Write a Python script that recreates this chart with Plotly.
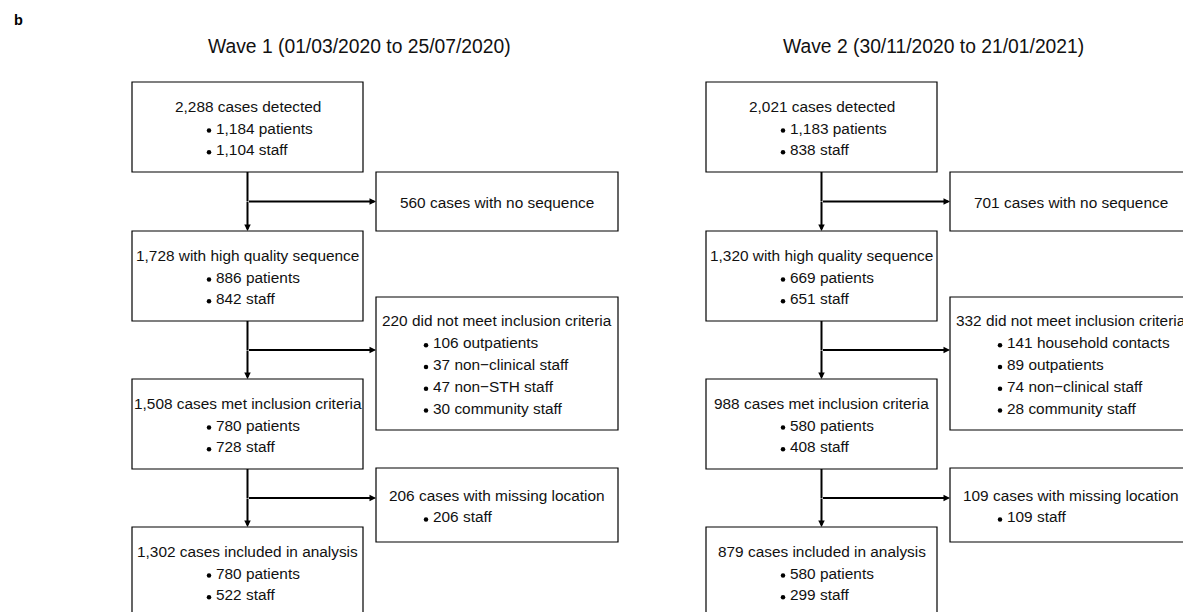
import plotly.graph_objects as go

# ---------------- data ----------------
panel_label = "b"
wave_titles = ["Wave 1 (01/03/2020 to 25/07/2020)", "Wave 2 (30/11/2020 to 21/01/2021)"]

main_labels = ["cases detected", "with high quality sequence",
               "cases met inclusion criteria", "cases included in analysis"]
excl_labels = ["cases with no sequence", "did not meet inclusion criteria",
               "cases with missing location"]

w1_main_counts = [2288, 1728, 1508, 1302]
w1_main_patients = [1184, 886, 780, 780]
w1_main_staff = [1104, 842, 728, 522]
w1_excl_counts = [560, 220, 206]
w1_excl2_counts = [106, 37, 47, 30]
w1_excl2_labels = ["outpatients", "non\u2212clinical staff", "non\u2212STH staff", "community staff"]
w1_excl3_staff = [206]

w2_main_counts = [2021, 1320, 988, 879]
w2_main_patients = [1183, 669, 580, 580]
w2_main_staff = [838, 651, 408, 299]
w2_excl_counts = [701, 332, 109]
w2_excl2_counts = [141, 89, 74, 28]
w2_excl2_labels = ["household contacts", "outpatients", "non\u2212clinical staff", "community staff"]
w2_excl3_staff = [109]

waves = [
    dict(main_counts=w1_main_counts, patients=w1_main_patients, staff=w1_main_staff,
         excl_counts=w1_excl_counts, excl2_counts=w1_excl2_counts,
         excl2_labels=w1_excl2_labels, excl3_staff=w1_excl3_staff),
    dict(main_counts=w2_main_counts, patients=w2_main_patients, staff=w2_main_staff,
         excl_counts=w2_excl_counts, excl2_counts=w2_excl2_counts,
         excl2_labels=w2_excl2_labels, excl3_staff=w2_excl3_staff),
]

# ---------------- layout geometry (pixels of the page) ----------------
W, H = 1183, 612
panel_x0 = [132, 706]
main_w = 231
main_h = 90
main_tops = [82, 231, 379, 527]
side_dx = 244
side_w = 242
side_tops = [172, 297, 468]
side_bots = [231, 430, 542]
title_dx = 227
title_y = 46
line_h = 21.8
FS = 15.4
FONT = "Liberation Sans, Arial, Helvetica, sans-serif"
TXT = "#111111"
main_bullet_dx = 77
side_bullet_dx = 50
bullet_gap = 4.5
bullet_dy = 2.5

fig = go.Figure()
shapes, annots = [], []
bx, by = [], []


def text(x, y, s, anchor="center", size=FS, color=TXT):
    annots.append(dict(x=x, y=y, xref="x", yref="y", text=s, showarrow=False,
                       xanchor=anchor, yanchor="middle",
                       font=dict(family=FONT, size=size, color=color)))


def box(x0, y0, x1, y1):
    shapes.append(dict(type="rect", xref="x", yref="y", x0=x0, y0=y0, x1=x1, y1=y1,
                       line=dict(color="black", width=1.2), fillcolor="rgba(0,0,0,0)"))


def arrow(xs, ys, xe, ye):
    annots.append(dict(x=xe, y=ye, ax=xs, ay=ys, xref="x", yref="y", axref="x", ayref="y",
                       text="", showarrow=True, arrowhead=2, arrowsize=0.65, arrowwidth=2,
                       arrowcolor="black", standoff=0, startstandoff=0))


def block(left, top, bottom, header, items, bullet_dx, width):
    """header centred in box, bullet items left aligned."""
    n = 1 + len(items)
    cy = (top + bottom) / 2 + 1
    cx = left + width / 2
    for k in range(n):
        y = cy + (k - (n - 1) / 2) * line_h
        if k == 0:
            text(cx, y, header)
        else:
            bx.append(left + bullet_dx)
            by.append(y + bullet_dy)
            text(left + bullet_dx + bullet_gap, y, items[k - 1], anchor="left")


text(12, 20, "<b>%s</b>" % panel_label, anchor="left", size=14.5, color="black")

for p, wv in enumerate(waves):
    x0 = panel_x0[p]
    cx = x0 + main_w / 2
    sx = x0 + side_dx
    text(x0 + title_dx, title_y, wave_titles[p], size=19.3)
    for i in range(4):
        top = main_tops[i]
        bot = top + main_h
        box(x0, top, x0 + main_w, bot)
        block(x0, top, bot, f"{wv['main_counts'][i]:,} {main_labels[i]}",
              [f"{wv['patients'][i]:,} patients", f"{wv['staff'][i]:,} staff"],
              main_bullet_dx, main_w)
    for i in range(3):
        bot = main_tops[i] + main_h
        nxt = main_tops[i + 1]
        ay = (bot + nxt) / 2
        shapes.append(dict(type="line", xref="x", yref="y", x0=cx, x1=cx, y0=bot, y1=ay,
                           line=dict(color="black", width=2)))
        arrow(cx, ay - 1, cx, nxt)
        arrow(cx, ay, sx, ay)
        box(sx, side_tops[i], sx + side_w, side_bots[i])
        if i == 0:
            items = []
        elif i == 1:
            items = [f"{c:,} {l}" for c, l in zip(wv["excl2_counts"], wv["excl2_labels"])]
        else:
            items = [f"{c:,} staff" for c in wv["excl3_staff"]]
        block(sx, side_tops[i], side_bots[i], f"{wv['excl_counts'][i]:,} {excl_labels[i]}",
              items, side_bullet_dx, side_w)

fig.add_trace(go.Scatter(x=bx, y=by, mode="markers", hoverinfo="skip", showlegend=False,
                         marker=dict(size=4.5, color="black", symbol="circle")))

fig.update_layout(
    width=W, height=H, autosize=False,
    margin=dict(l=0, r=0, t=0, b=0),
    paper_bgcolor="white", plot_bgcolor="white",
    shapes=shapes, annotations=annots,
    xaxis=dict(range=[0, W], visible=False, fixedrange=True),
    yaxis=dict(range=[H, 0], visible=False, fixedrange=True),
    showlegend=False,
)

fig.write_html(
    "out.html",
    config={"displayModeBar": False},
    post_script="document.body.style.margin='0';document.body.style.overflow='hidden';",
)
